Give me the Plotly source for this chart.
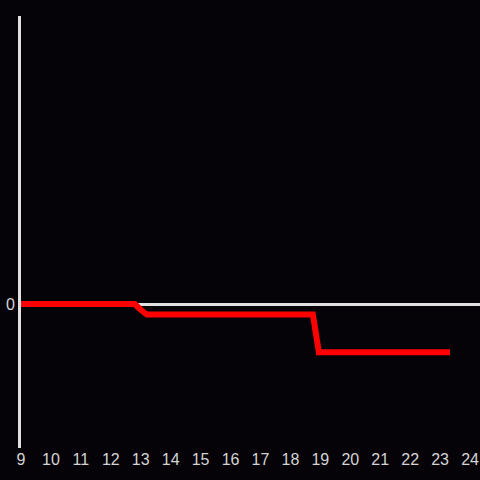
import plotly.graph_objects as go

x_vals = [9, 12.8, 13.0, 13.2, 18.75, 18.95, 23.33]
y_vals = [0, 0, -0.04, -0.073, -0.073, -0.335, -0.335]
x_ticks = list(range(9, 25))

fig = go.Figure()
fig.add_trace(go.Scatter(x=x_vals, y=y_vals, mode="lines",
                         line=dict(color="#ff0000", width=6), showlegend=False, hoverinfo="skip"))
fig.update_layout(
    width=480, height=480,
    paper_bgcolor="#050307", plot_bgcolor="#050307",
    margin=dict(l=21, r=0, t=16, b=32),
    font=dict(family="Liberation Sans, Arial, sans-serif", size=16, color="#d4d4d4"),
)
fig.update_xaxes(range=[9, 24.333], tickvals=x_ticks, ticktext=[str(t) for t in x_ticks],
                 showgrid=False, zeroline=False, showline=False, ticks="", ticklen=0,
                 automargin=False)
fig.update_yaxes(range=[-1, 2], tickvals=[0], ticktext=["0"], showgrid=False,
                 zeroline=True, zerolinecolor="#e0e0e0", zerolinewidth=3,
                 showline=True, linecolor="#e0e0e0", linewidth=3, ticks="",
                 automargin=False)
fig.write_html("out.html", config={"displayModeBar": False},
               post_script="document.body.style.margin='0';document.body.style.background='#050307';")
